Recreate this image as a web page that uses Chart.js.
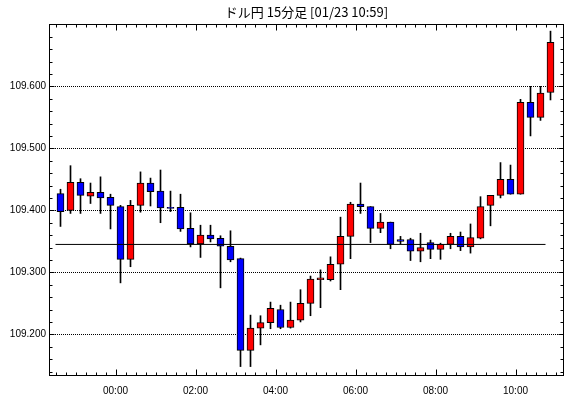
<!DOCTYPE html>
<html lang="ja">
<head>
<meta charset="utf-8">
<title>ドル円 15分足</title>
<script src="https://cdn.jsdelivr.net/npm/chart.js@4.4.1/dist/chart.umd.min.js"></script>
<style>
    html, body { margin: 0; padding: 0; background: #ffffff; }
    #chart-wrap { width: 570px; height: 398px; }
</style>
</head>
<body>
<div id="chart-wrap"><canvas id="fx-chart" width="570" height="398"></canvas></div>
<script>
// 15分足 22:30 ～ 10:45
const times = [
    '22:30', '22:45', '23:00', '23:15', '23:30', '23:45',
    '00:00', '00:15', '00:30', '00:45', '01:00', '01:15', '01:30', '01:45',
    '02:00', '02:15', '02:30', '02:45', '03:00', '03:15', '03:30', '03:45',
    '04:00', '04:15', '04:30', '04:45', '05:00', '05:15', '05:30', '05:45',
    '06:00', '06:15', '06:30', '06:45', '07:00', '07:15', '07:30', '07:45',
    '08:00', '08:15', '08:30', '08:45', '09:00', '09:15', '09:30', '09:45',
    '10:00', '10:15', '10:30', '10:45'
];
const opens = [
    109.427, 109.400, 109.445, 109.423, 109.429, 109.421,
    109.406, 109.321, 109.408, 109.444, 109.431, 109.405, 109.405, 109.371,
    109.346, 109.360, 109.355, 109.342, 109.322, 109.174, 109.210, 109.219,
    109.240, 109.211, 109.223, 109.250, 109.288, 109.288, 109.313, 109.358,
    109.410, 109.406, 109.371, 109.381, 109.353, 109.353, 109.334, 109.348,
    109.337, 109.345, 109.358, 109.341, 109.355, 109.408, 109.424, 109.450,
    109.426, 109.574, 109.550, 109.590
];
const highs = [
    109.434, 109.472, 109.451, 109.444, 109.454, 109.426,
    109.408, 109.416, 109.462, 109.452, 109.465, 109.431, 109.426, 109.396,
    109.376, 109.376, 109.359, 109.367, 109.323, 109.231, 109.230, 109.252,
    109.247, 109.252, 109.272, 109.294, 109.304, 109.325, 109.389, 109.413,
    109.444, 109.406, 109.395, 109.381, 109.358, 109.355, 109.363, 109.352,
    109.347, 109.363, 109.365, 109.378, 109.422, 109.424, 109.477, 109.473,
    109.579, 109.600, 109.600, 109.689
];
const lows = [
    109.374, 109.395, 109.395, 109.411, 109.395, 109.370,
    109.283, 109.309, 109.397, 109.407, 109.380, 109.398, 109.366, 109.341,
    109.324, 109.349, 109.275, 109.317, 109.148, 109.148, 109.183, 109.209,
    109.209, 109.210, 109.220, 109.230, 109.243, 109.286, 109.272, 109.322,
    109.395, 109.348, 109.364, 109.338, 109.346, 109.319, 109.317, 109.322,
    109.321, 109.338, 109.335, 109.331, 109.354, 109.375, 109.420, 109.426,
    109.426, 109.520, 109.545, 109.578
];
const closes = [
    109.398, 109.445, 109.424, 109.429, 109.420, 109.408,
    109.321, 109.408, 109.444, 109.430, 109.404, 109.403, 109.370, 109.346,
    109.360, 109.354, 109.342, 109.320, 109.174, 109.210, 109.219, 109.242,
    109.211, 109.223, 109.250, 109.289, 109.291, 109.313, 109.358, 109.410,
    109.406, 109.371, 109.381, 109.345, 109.350, 109.334, 109.340, 109.337,
    109.345, 109.358, 109.341, 109.356, 109.406, 109.424, 109.450, 109.426,
    109.574, 109.550, 109.589, 109.671
];
// 基準線 (前日終値付近)
const baseLine = 109.345;

const xTickPositions = [6, 14, 22, 30, 38, 46];
const xTickLabels = ['00:00', '02:00', '04:00', '06:00', '08:00', '10:00'];
const yTickValues = [109.2, 109.3, 109.4, 109.5, 109.6];

const UP_COLOR = '#ff0000';
const DOWN_COLOR = '#0000ff';

// 内向きの目盛りと枠線
const framePlugin = {
    id: 'frame',
    afterDraw(chart) {
        const { ctx, chartArea, scales } = chart;
        const xs = scales.x, ys = scales.y;
        const left = Math.round(chartArea.left) + 0.5;
        const right = Math.round(chartArea.right) - 0.5;
        const top = Math.round(chartArea.top) + 0.5;
        const bottom = Math.round(chartArea.bottom) - 0.5;

        ctx.save();
        ctx.strokeStyle = '#000';
        ctx.lineWidth = 1;
        ctx.beginPath();
        // x: 15分ごと
        for (let k = 0; k <= times.length; k++) {
            const px = Math.round(xs.getPixelForValue(k)) + 0.5;
            if (px <= left || px >= right) continue;
            const len = xTickPositions.includes(k) ? 6 : 3;
            ctx.moveTo(px, bottom);
            ctx.lineTo(px, bottom - len);
            ctx.moveTo(px, top);
            ctx.lineTo(px, top + len);
        }
        // y: 0.02ごと
        for (let n = Math.ceil(ys.min * 50); n <= Math.floor(ys.max * 50); n++) {
            const py = Math.round(ys.getPixelForValue(n / 50)) + 0.5;
            const len = n % 5 === 0 ? 5 : 3;
            ctx.moveTo(left, py);
            ctx.lineTo(left + len, py);
            ctx.moveTo(right, py);
            ctx.lineTo(right - len, py);
        }
        ctx.stroke();
        ctx.strokeRect(left, top, right - left, bottom - top);
        ctx.restore();
    }
};

function buildChart() {
    const ctx = document.getElementById('fx-chart').getContext('2d');
    const bodies = times.map((t, i) => ({ x: i + 0.5, y: [opens[i], closes[i]] }));
    const wicks = times.map((t, i) => ({ x: i + 0.5, y: [lows[i], highs[i]] }));
    const bodyColors = times.map((t, i) => closes[i] >= opens[i] ? UP_COLOR : DOWN_COLOR);

    new Chart(ctx, {
        type: 'bar',
        data: {
            datasets: [
                {
                    type: 'line',
                    data: [{ x: 0, y: baseLine }, { x: times.length - 1, y: baseLine }],
                    borderColor: '#000',
                    borderWidth: 1,
                    pointRadius: 0,
                    order: 0
                },
                {
                    data: bodies,
                    backgroundColor: bodyColors,
                    borderColor: '#000',
                    borderWidth: 1,
                    borderSkipped: false,
                    barThickness: 7,
                    grouped: false,
                    order: 1
                },
                {
                    data: wicks,
                    backgroundColor: '#000',
                    borderWidth: 0,
                    barThickness: 1,
                    grouped: false,
                    order: 2
                }
            ]
        },
        options: {
            responsive: false,
            animation: false,
            devicePixelRatio: 1,
            layout: { padding: { left: 0, right: 6, top: 0, bottom: 0 } },
            plugins: {
                legend: { display: false },
                tooltip: { enabled: false },
                title: {
                    display: true,
                    text: 'ドル円 15分足 [01/23 10:59]',
                    fullSize: false,
                    color: '#000',
                    font: { family: '"Noto Sans CJK JP", "Liberation Sans", sans-serif', size: 13, weight: 'normal' },
                    lineHeight: 1.2,
                    padding: { top: 4, bottom: 4.4 }
                }
            },
            scales: {
                x: {
                    type: 'linear',
                    offset: false,
                    min: -0.65,
                    max: 50.85,
                    afterBuildTicks: (scale) => {
                        scale.ticks = xTickPositions.map(v => ({ value: v }));
                    },
                    afterFit: (scale) => { scale.height = 22; },
                    ticks: {
                        color: '#000',
                        padding: 1,
                        maxRotation: 0,
                        autoSkip: false,
                        font: { family: '"Liberation Sans", sans-serif', size: 10 },
                        callback: (value) => xTickLabels[xTickPositions.indexOf(value)]
                    },
                    grid: { display: false, offset: false },
                    border: { display: false }
                },
                y: {
                    min: 109.1328,
                    max: 109.7005,
                    afterBuildTicks: (scale) => {
                        scale.ticks = yTickValues.map(v => ({ value: v }));
                    },
                    afterFit: (scale) => { scale.width = 49; },
                    ticks: {
                        color: '#000',
                        padding: 3,
                        font: { family: '"Liberation Sans", sans-serif', size: 10 },
                        callback: (value) => value.toFixed(3)
                    },
                    grid: { color: '#000', lineWidth: 1, drawTicks: false },
                    border: { display: false, dash: [1, 1] }
                }
            }
        },
        plugins: [framePlugin]
    });
}

document.addEventListener('DOMContentLoaded', buildChart);
</script>
</body>
</html>
